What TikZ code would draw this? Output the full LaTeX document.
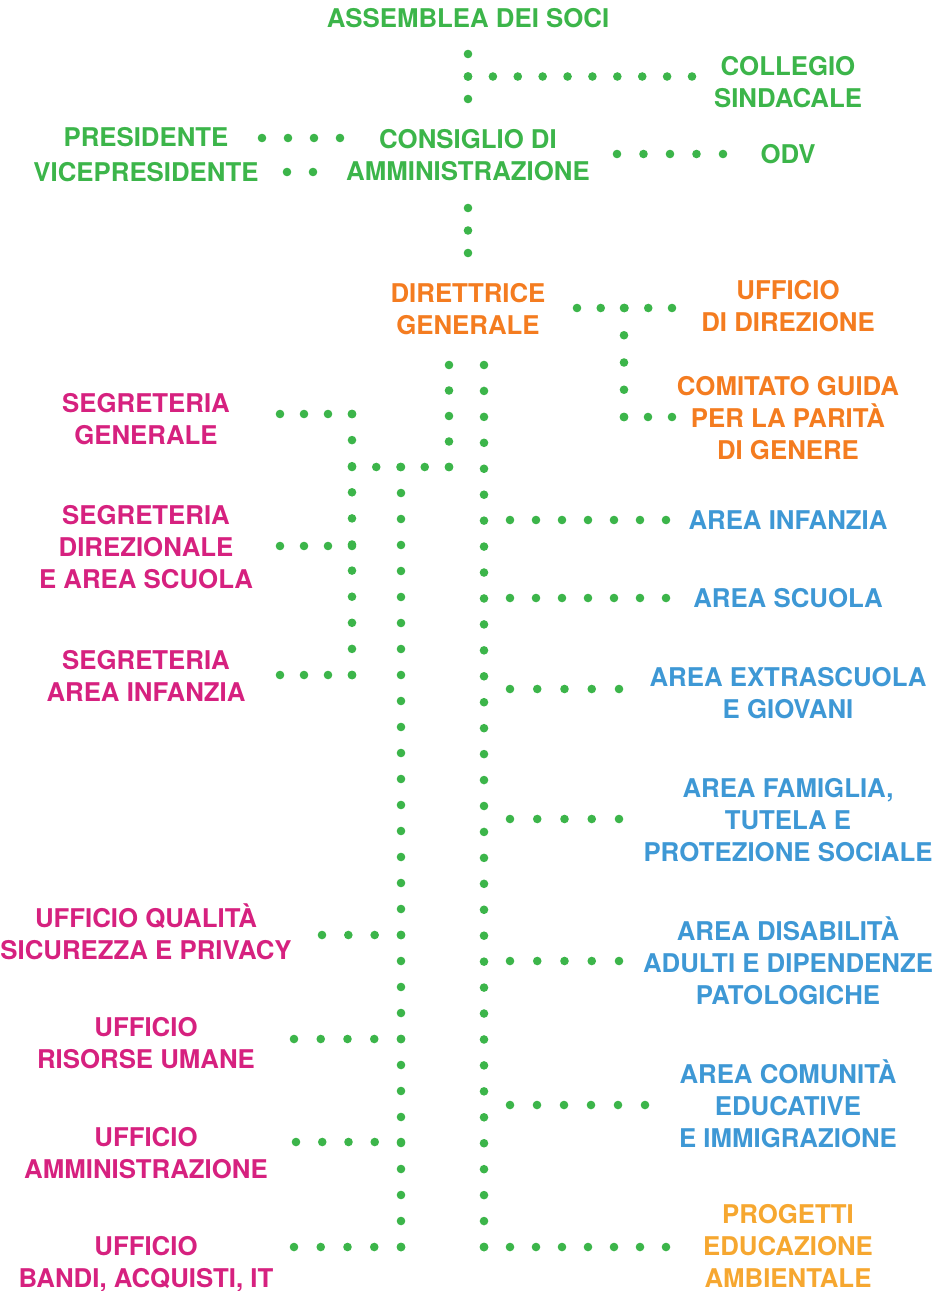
\documentclass[tikz,border=0pt]{standalone}
\usepackage{fontspec}
\setmainfont{TeX Gyre Heros}
\usetikzlibrary{calc}
\definecolor{dotgreen}{HTML}{3CB54A}
\definecolor{dirorange}{HTML}{F47C20}
\definecolor{segpink}{HTML}{D6217F}
\definecolor{areablue}{HTML}{3E98D5}
\definecolor{progamber}{HTML}{F6A730}
\tikzset{
	lbl/.style={inner sep=0pt,align=center,font=\fontsize{25.8}{32}\selectfont\bfseries},
	gov/.style={lbl,text=dotgreen},
	dir/.style={lbl,text=dirorange},
	seg/.style={lbl,text=segpink},
	area/.style={lbl,text=areablue},
	prog/.style={lbl,text=progamber}
}
% row of evenly spaced dots from #1 to #2 with #3 gaps
\newcommand{\dotrow}[3]{\foreach \k in {0,...,#3} \fill[dotgreen] ($(#1)!\k/#3!(#2)$) circle (4.3pt);}

\begin{document}
\begin{tikzpicture}[x=1pt,y=-1pt]
	\useasboundingbox (0,0) rectangle (940,1291);
	% governance
	\node[gov] (soci) at (468,18) {ASSEMBLEA DEI SOCI};
	\node[gov] (coll) at (788,82) {COLLEGIO\\SINDACALE};
	\node[gov] (pres) at (146,137) {PRESIDENTE};
	\node[gov] (vice) at (146,172) {VICEPRESIDENTE};
	\node[gov] (cda) at (468,155) {CONSIGLIO DI\\AMMINISTRAZIONE};
	\node[gov] (odv) at (788,154) {ODV};
	% direzione
	\node[dir] (dg) at (468,309) {DIRETTRICE\\GENERALE};
	\node[dir] (udir) at (788,306) {UFFICIO\\DI DIREZIONE};
	\node[dir] (cgp) at (788,418) {COMITATO GUIDA\\PER LA PARITÀ\\DI GENERE};
	% segreterie e uffici
	\node[seg] (sgen) at (146,419) {SEGRETERIA\\GENERALE};
	\node[seg] (sdir) at (146,547) {SEGRETERIA\\DIREZIONALE\\E AREA SCUOLA};
	\node[seg] (sinf) at (146,676) {SEGRETERIA\\AREA INFANZIA};
	\node[seg] (uqual) at (146,932) {UFFICIO QUALITÀ\\SICUREZZA E PRIVACY};
	\node[seg] (uris) at (146,1043) {UFFICIO\\RISORSE UMANE};
	\node[seg] (uamm) at (146,1153) {UFFICIO\\AMMINISTRAZIONE};
	\node[seg] (uband) at (146,1264) {UFFICIO\\BANDI, ACQUISTI, IT};
	% aree
	\node[area] (ainf) at (788,520) {AREA INFANZIA};
	\node[area] (asc) at (788,598) {AREA SCUOLA};
	\node[area] (aext) at (788,693) {AREA EXTRASCUOLA\\E GIOVANI};
	\node[area] (afam) at (788,820) {AREA FAMIGLIA,\\TUTELA E\\PROTEZIONE SOCIALE};
	\node[area] (adis) at (788,961) {AREA DISABILITÀ\\ADULTI E DIPENDENZE\\PATOLOGICHE};
	\node[area] (acom) at (788,1104) {AREA COMUNITÀ\\EDUCATIVE\\E IMMIGRAZIONE};
	\node[prog] (pea) at (788,1246) {PROGETTI\\EDUCAZIONE\\AMBIENTALE};

	% connector ends
	\coordinate (t1) at (468,54);
	\coordinate (t2) at (468,99);
	\coordinate (tj) at (468,76.5);
	\coordinate (tc) at (692,76.5);
	\coordinate (p1) at (262,138);
	\coordinate (p2) at (340,138);
	\coordinate (v1) at (287,172);
	\coordinate (v2) at (313,172);
	\coordinate (o1) at (617,154);
	\coordinate (o2) at (723,154);
	\coordinate (c1) at (468,208);
	\coordinate (c2) at (468,253);
	\coordinate (d1) at (577,308);
	\coordinate (dj) at (624,308);
	\coordinate (d2) at (672,308);
	\coordinate (dk) at (624,417);
	\coordinate (d3) at (672,417);
	\coordinate (la) at (449,365);
	\coordinate (lb) at (449,467);
	\coordinate (lc) at (352,467);
	\coordinate (sa) at (352,414);
	\coordinate (sb) at (352,675);
	\coordinate (ua) at (401,467);
	\coordinate (ub) at (401,1247);
	\coordinate (ra) at (484,365);
	\coordinate (rb) at (484,1247);

	% dotted links
	\dotrow{t1}{t2}{2}
	\dotrow{tj}{tc}{9}
	\dotrow{p1}{p2}{3}
	\dotrow{v1}{v2}{1}
	\dotrow{o1}{o2}{4}
	\dotrow{c1}{c2}{2}
	\dotrow{d1}{d2}{4}
	\dotrow{dj}{dk}{4}
	\dotrow{dk}{d3}{2}
	\dotrow{la}{lb}{4}
	\dotrow{lb}{lc}{4}
	\dotrow{sa}{sb}{10}
	\dotrow{ua}{ub}{30}
	\dotrow{ra}{rb}{34}
	% left branches
	\dotrow{280,414}{sa}{3}
	\dotrow{280,546}{352,546}{3}
	\dotrow{280,675}{sb}{3}
	\dotrow{322,935}{401,935}{3}
	\dotrow{294,1039}{401,1039}{4}
	\dotrow{296,1142}{401,1142}{4}
	\dotrow{294,1247}{ub}{4}
	% right branches
	\dotrow{510,520}{666,520}{6}
	\dotrow{510,598}{666,598}{6}
	\dotrow{510,689}{619,689}{4}
	\dotrow{510,819}{619,819}{4}
	\dotrow{510,961}{619,961}{4}
	\dotrow{510,1105}{645,1105}{5}
	\dotrow{rb}{666,1247}{7}
\end{tikzpicture}
\end{document}
